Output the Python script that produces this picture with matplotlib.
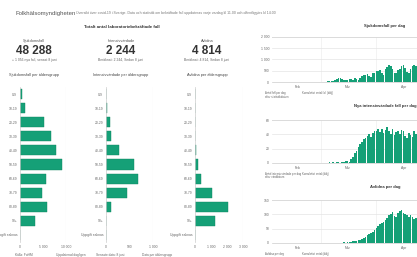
import pandas as pd
import matplotlib
matplotlib.use("Agg")
import matplotlib.pyplot as plt

plt.rcParams['font.family'] = ['Liberation Sans', 'DejaVu Sans']

# Step 1: Data

age_groups = ["0-9", "10-19", "20-29", "30-39", "40-49", "50-59",
              "60-69", "70-79", "80-89", "90+", "Uppgift saknas"]
cases_by_age = [400, 1000, 5300, 6700, 7900, 9200, 5700, 4700, 5800, 3200, 20]
icu_by_age = [8, 12, 85, 110, 270, 590, 690, 450, 100, 2, 0]
deaths_by_age = [1, 1, 8, 15, 40, 160, 380, 1070, 2040, 1220, 0]

kpi_titles = ["Sjukdomsfall", "Intensivvårdade", "Avlidna"]
kpi_values = ["48 288", "2 244", "4 814"]
kpi_notes = ["+ 1 056 nya fall, senast 8 juni", "Beräknat: 2 244, Sedan 8 juni",
             "Beräknat: 4 814, Sedan 8 juni"]
age_titles = ["Sjukdomsfall per åldersgrupp", "Intensivvårdade per åldersgrupp",
              "Avlidna per åldersgrupp"]
age_ticks = [[0, 5000, 10000], [0, 500, 1000], [0, 1000, 2000, 3000]]
age_ticklabels = [["0", "5 000", "10 000"], ["0", "500", "1 000"],
                  ["0", "1 000", "2 000", "3 000"]]

# daily values from 4 Feb 2020
cases_day = ([1, 0, 0, 0, 0, 0, 0, 0, 0, 0, 0, 0, 0, 0, 0, 0, 0, 0, 0, 0, 0, 1, 0, 3, 2, 2]
             + [5, 8, 6, 20, 25, 40, 60, 55, 100, 140, 160, 170, 120, 80, 90, 110, 130, 140,
                110, 190, 130, 100, 200, 260, 300, 330, 350, 280, 210, 380, 420]
             + [500, 480, 520, 390, 300, 560, 680, 760, 720, 560, 420, 380, 520, 600, 700,
                750, 640, 430, 400, 580, 700, 760, 720, 600, 450, 420])
icu_day = ([0] * 26
           + [0, 0, 0, 0, 0, 1, 0, 1, 0, 1, 1, 0, 2, 2, 3, 3, 2, 5, 9, 14, 17, 22, 26, 30,
              33, 35, 38, 40, 36, 42, 44]
           + [45, 47, 43, 48, 42, 46, 50, 44, 41, 47, 39, 43, 45, 40, 46, 44, 37, 35, 42,
              39, 36, 45, 41, 38, 33, 30])
deaths_day = ([0] * 26
              + [0, 0, 0, 0, 0, 0, 0, 0, 0, 0, 1, 0, 1, 2, 1, 3, 2, 4, 6, 7, 8, 10, 12, 15,
                 18, 22, 27, 30, 35, 40, 45]
              + [52, 58, 65, 70, 74, 80, 88, 96, 100, 108, 95, 90, 104, 112, 114, 106, 100,
                 98, 92, 96, 90, 85, 88, 80, 76, 72])

day_titles = ["Sjukdomsfall per dag", "Nya intensivvårdade fall per dag", "Avlidna per dag"]
day_yticks = [[0, 500, 1000, 1500, 2000], [0, 20, 40, 60], [0, 50, 100, 150]]
day_yticklabels = [["0", "500", "1 000", "1 500", "2 000"], ["0", "20", "40", "60"],
                   ["0", "50", "100", "150"]]
month_starts = ["2020-03-01", "2020-04-01", "2020-05-01"]
month_labels = ["Feb", "Mar", "Apr"]
month_label_pos = ["2020-02-17", "2020-03-16", "2020-04-16"]
legend_texts = [("Antal fall per dag", "efter statistikdatum", "Kumulativt antal fall (dölj)"),
                ("Antal intensivvårdade per dag", "efter vårddatum", "Kumulativt antal (dölj)"),
                ("Avlidna per dag", "", "Kumulativt antal (dölj)")]

GREEN = "#15a077"
EDGE = "#0f8460"
W, H = 417, 257

fig = plt.figure(figsize=(W / 100, H / 100), dpi=100)
fig.patch.set_facecolor("white")


def px_axes(x0, y0, x1, y1):
    return fig.add_axes([x0 / W, 1 - y1 / H, (x1 - x0) / W, (y1 - y0) / H])


def px_text(x, y, s, **kw):
    fig.text(x / W, 1 - y / H, s, **kw)


# Step 2: Header

px_text(15, 13, "Folkhälsomyndigheten", fontsize=4.3, color="#555555", va="center")
px_text(76, 13, "Översikt över covid-19 i Sverige. Data och statistik om bekräftade fall "
        "uppdateras varje vardag kl 11.00 och offentliggörs kl 14.00",
        fontsize=2.5, color="#777777", va="center")
px_text(122, 27, "Totalt antal laboratoriebekräftade fall", fontsize=3.2, color="#333333",
        ha="center", va="center", weight="bold")

# Step 3: KPI figures and age group bars

kpi_x = [34, 121, 207]
panel_x = [(20, 66), (106, 153), (195, 243)]
age_data = [cases_by_age, icu_by_age, deaths_by_age]

for i in range(3):
    cx = kpi_x[i]
    px_text(cx, 41, kpi_titles[i], fontsize=2.8, color="#555555", ha="center", va="center")
    px_text(cx, 51, kpi_values[i], fontsize=8.5, color="#333333", ha="center", va="center",
            weight="bold")
    px_text(cx, 60, kpi_notes[i], fontsize=2.4, color="#666666", ha="center", va="center")
    px_text(cx, 75, age_titles[i], fontsize=2.8, color="#444444", ha="center", va="center")

    x0, x1 = panel_x[i]
    ax = px_axes(x0, 87, x1, 242)
    ypos = list(range(len(age_groups)))
    ax.barh(ypos, age_data[i], height=0.72, color=GREEN, edgecolor=EDGE, linewidth=0.3)
    ax.set_ylim(len(age_groups) - 0.5, -0.5)
    ax.set_xlim(0, age_ticks[i][-1])
    ax.set_yticks(ypos)
    ax.set_yticklabels(age_groups)
    ax.set_xticks(age_ticks[i])
    ax.set_xticklabels(age_ticklabels[i])
    ax.tick_params(length=0, labelsize=2.4, labelcolor="#666666", pad=2)
    for s in ["top", "right", "bottom"]:
        ax.spines[s].set_visible(False)
    ax.spines["left"].set_color("#cccccc")
    ax.spines["left"].set_linewidth(0.5)
    ax.axvline(age_ticks[i][-1], color="#dddddd", linewidth=0.8)

footer = ["Källa: FoHM", "Uppdaterad dagligen", "Senaste data: 8 juni", "Data per åldersgrupp"]
for fx, ft in zip([15, 56, 96, 142], footer):
    px_text(fx, 255, ft, fontsize=2.3, color="#666666", va="center")

# Step 4: Daily bar charts

dates = pd.date_range("2020-02-04", periods=len(cases_day))
day_data = [cases_day, icu_day, deaths_day]
title_y = [26, 106, 187]
axes_y = [(37, 82), (120, 163), (200, 243)]
legend_y = [93, 174, 254]
xmin = pd.Timestamp("2020-02-03")
xmax = pd.Timestamp("2020-06-22")

for i in range(3):
    px_text(385, title_y[i], day_titles[i], fontsize=3.0, color="#333333",
            ha="center", va="center", weight="bold")
    y0, y1 = axes_y[i]
    ax = px_axes(272, y0, 272 + 1.8 * (xmax - xmin).days, y1)
    ax.bar(dates, day_data[i], width=0.8, color=GREEN, linewidth=0)
    ax.set_xlim(xmin, xmax)
    ax.set_ylim(0, day_yticks[i][-1])
    ax.set_yticks(day_yticks[i])
    ax.set_yticklabels(day_yticklabels[i])
    ax.set_xticks(pd.to_datetime(month_starts))
    ax.set_xticklabels([])
    ax.set_xticks(pd.to_datetime(month_label_pos), minor=True)
    ax.set_xticklabels(month_labels, minor=True)
    ax.tick_params(which="both", length=0, labelsize=2.4, labelcolor="#666666", pad=2)
    ax.grid(axis="y", color="#e4e4e4", linewidth=0.5)
    ax.grid(axis="x", which="major", color="#eeeeee", linewidth=0.5)
    ax.axhline(day_yticks[i][-1], color="#d8d8d8", linewidth=1.2)
    ax.set_axisbelow(True)
    for s in ["top", "right", "left"]:
        ax.spines[s].set_visible(False)
    ax.spines["bottom"].set_color("#cccccc")
    ax.spines["bottom"].set_linewidth(0.5)

    l1, l2, l3 = legend_texts[i]
    px_text(265, legend_y[i], l1, fontsize=2.0, color="#666666", va="center")
    if l2:
        px_text(265, legend_y[i] + 3.5, l2, fontsize=2.0, color="#666666", va="center")
    px_text(302, legend_y[i], l3, fontsize=2.0, color="#666666", va="center")

plt.savefig("out.png", dpi=100)
